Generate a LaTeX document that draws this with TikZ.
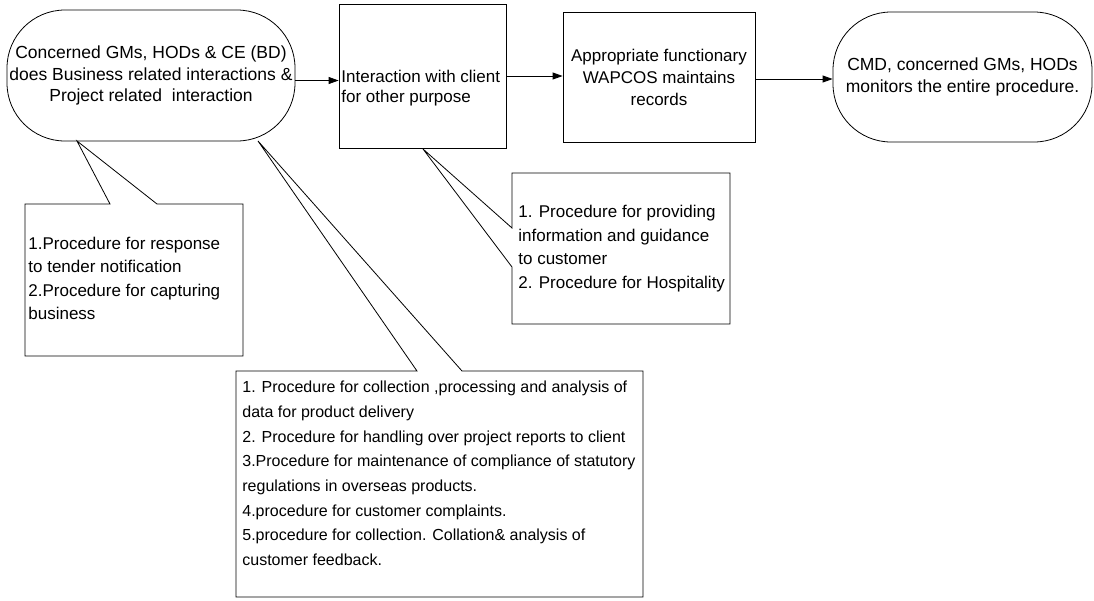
\documentclass[tikz,border=0pt]{standalone}
\usepackage{fontspec}
\setmainfont{Liberation Sans}
\usetikzlibrary{arrows.meta}
\begin{document}
\begin{tikzpicture}[x=1pt,y=-1pt, line width=0.8pt,
  box/.style={draw, inner sep=0pt},
  ctxt/.style={inner sep=0pt, align=center, font=\fontsize{17.5}{21.7}\selectfont},
  ltxt/.style={inner sep=0pt, align=left, font=\fontsize{17}{23.5}\selectfont},
  arr/.style={-{Triangle[length=10pt,width=7pt]}},
  callout/.style={draw, line join=miter}
  ]
\useasboundingbox (0,0) rectangle (1094,600);

% main flow
\node[box, rounded corners=58pt, minimum width=288pt, minimum height=131pt, ctxt] (n1) at (151,75.5)
  {Concerned GMs, HODs \& CE (BD)\\does Business related interactions \&\\Project related\ \ interaction};
\node[box, minimum width=167pt, minimum height=144pt] (n2) at (422.5,76) {};
\node[ltxt, font=\fontsize{17}{20}\selectfont, anchor=west] (n2t) at (341,88)
  {Interaction with client\\for other purpose};
\node[box, minimum width=192pt, minimum height=130pt, ctxt, font=\fontsize{17}{22}\selectfont] (n3) at (659,77)
  {Appropriate functionary\\WAPCOS maintains\\records};
\node[box, rounded corners=58pt, minimum width=259pt, minimum height=130pt, ctxt, font=\fontsize{17.5}{22}\selectfont] (n4) at (962.5,77)
  {CMD, concerned GMs, HODs\\monitors the entire procedure.};

\coordinate (a1s) at ([yshift=-5pt]n1.east);
\coordinate (a3s) at ([yshift=-2pt]n3.east);
\draw[arr] (a1s) -- (n2.west |- a1s);
\draw[arr] (n2.east) -- (n3.west |- n2.east);
\draw[arr] (a3s) -- (n4.west |- a3s);

% callout 1
\coordinate (t1) at (77,141);
\coordinate (c1nw) at (25,204);
\coordinate (c1se) at (243,356);
\coordinate (c1a) at (110,204);
\coordinate (c1b) at (157,204);
\draw[callout] (c1nw) -- (c1a) -- (t1) -- (c1b) -- (c1nw -| c1se) -- (c1se) -- (c1se -| c1nw) -- cycle;
\node[ltxt, anchor=west] (c1t) at (28,278.5)
  {1.Procedure for response\\to tender notification\\2.Procedure for capturing\\business};

% callout 2
\coordinate (t2) at (258,141);
\coordinate (c2nw) at (236,371);
\coordinate (c2se) at (643,597);
\coordinate (c2a) at (417,371);
\coordinate (c2b) at (462,371);
\draw[callout] (c2nw) -- (c2a) -- (t2) -- (c2b) -- (c2nw -| c2se) -- (c2se) -- (c2se -| c2nw) -- cycle;
\node[ltxt, font=\fontsize{16}{24.7}\selectfont, anchor=west] (c2t) at (242,473.5)
  {1. Procedure for collection ,processing and analysis of\\
   data for product delivery\\
   2. Procedure for handling over project reports to client\\
   3.Procedure for maintenance of compliance of statutory\\
   regulations in overseas products.\\
   4.procedure for customer complaints.\\
   5.procedure for collection. Collation\& analysis of\\
   customer feedback.};

% callout 3
\coordinate (t3) at (423,149);
\coordinate (c3nw) at (512,173);
\coordinate (c3se) at (730,324);
\coordinate (c3a) at (512,228);
\coordinate (c3b) at (512,267);
\draw[callout] (c3nw) -- (c3nw -| c3se) -- (c3se) -- (c3se -| c3nw) -- (c3b) -- (t3) -- (c3a) -- cycle;
\node[ltxt, anchor=west] (c3t) at (518,248.5)
  {1. Procedure for providing\\information and guidance\\to customer\\2. Procedure for Hospitality};
\end{tikzpicture}
\end{document}
